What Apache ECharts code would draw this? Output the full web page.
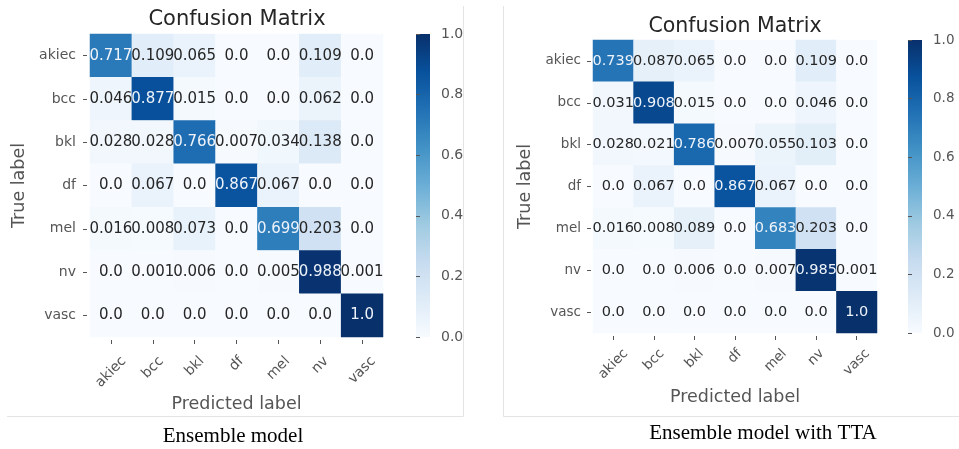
<!DOCTYPE html>
<html><head><meta charset="utf-8">
<script src="https://cdn.jsdelivr.net/npm/echarts@6/dist/echarts.min.js"></script>
<style>html,body{margin:0;padding:0;background:#fff}#c{width:959px;height:449px}</style>
</head><body><div id="c"></div>
<script>
// ---- data ----
const categories = ['akiec', 'bcc', 'bkl', 'df', 'mel', 'nv', 'vasc'];
const ensembleMatrix = [
  [0.717, 0.109, 0.065, 0.0, 0.0, 0.109, 0.0],
  [0.046, 0.877, 0.015, 0.0, 0.0, 0.062, 0.0],
  [0.028, 0.028, 0.766, 0.007, 0.034, 0.138, 0.0],
  [0.0, 0.067, 0.0, 0.867, 0.067, 0.0, 0.0],
  [0.016, 0.008, 0.073, 0.0, 0.699, 0.203, 0.0],
  [0.0, 0.001, 0.006, 0.0, 0.005, 0.988, 0.001],
  [0.0, 0.0, 0.0, 0.0, 0.0, 0.0, 1.0]
];
const ttaMatrix = [
  [0.739, 0.087, 0.065, 0.0, 0.0, 0.109, 0.0],
  [0.031, 0.908, 0.015, 0.0, 0.0, 0.046, 0.0],
  [0.028, 0.021, 0.786, 0.007, 0.055, 0.103, 0.0],
  [0.0, 0.067, 0.0, 0.867, 0.067, 0.0, 0.0],
  [0.016, 0.008, 0.089, 0.0, 0.683, 0.203, 0.0],
  [0.0, 0.0, 0.006, 0.0, 0.007, 0.985, 0.001],
  [0.0, 0.0, 0.0, 0.0, 0.0, 0.0, 1.0]
];
const colorbarMin = 0, colorbarMax = 1, colorbarStep = 0.2;
const titleText = 'Confusion Matrix';
const xName = 'Predicted label', yName = 'True label';
const captions = ['Ensemble model', 'Ensemble model with TTA'];
const blues = ['#f7fbff','#deebf7','#c6dbef','#9ecae1','#6baed6','#4292c6','#2171b5','#08519c','#08306b'];

// ---- layout ----
const FF = '"DejaVu Sans", sans-serif';
const GRAY = '#555555';
const panels = [
  {matrix: ensembleMatrix, hx: 90, hy: 34, hw: 293, hh: 303, cx: 416, cw: 14, fs: 14, cfs: 15,
   xo: 3, xm: 5, xng: 55, yo: 3, ym: 11, yng: 59, tx: 237, ty: 9.5, tfs: 21, capX: 233, capY: 426},
  {matrix: ttaMatrix, hx: 593, hy: 40, hw: 284, hh: 293, cx: 908, cw: 14, fs: 13.5, cfs: 14.5,
   xo: 3, xm: 1.5, xng: 52, yo: 2, ym: 10, yng: 57, tx: 735, ty: 16, tfs: 20.5, capX: 763, capY: 423}
];
const D = 14; // extra drop used by rotated-label padding

const ctx = document.createElement('canvas').getContext('2d');
function textW(t, fs) { ctx.font = fs + 'px "DejaVu Sans"'; return ctx.measureText(t).width; }
function fmt(v) { return Number.isInteger(Math.round(v * 1000) / 100) ? v.toFixed(1) : String(v); }

const grid = [], xAxis = [], yAxis = [], series = [], visualMap = [], title = [], graphic = [];
panels.forEach((P, i) => {
  const g = i * 2;
  grid.push({left: P.hx, top: P.hy, width: P.hw, height: P.hh});
  grid.push({left: P.cx, top: P.hy, width: P.cw, height: P.hh});
  // rich tokens: centre each rotated label horizontally on its tick (matplotlib ha='center')
  const rich = {};
  categories.forEach((c, k) => {
    const w = textW(c, P.fs);
    const pR = Math.max(0, D / Math.SQRT2 - w / 4);
    const pT = 2 * pR + w;
    rich['t' + k] = {padding: [pT, pR, 0, 0], fontSize: P.fs, color: GRAY, fontFamily: FF};
  });
  xAxis.push({
    gridIndex: g, type: 'category', position: 'bottom', offset: P.xo,
    data: categories,
    axisLine: {show: false},
    axisTick: {show: true, alignWithLabel: true, length: 4, lineStyle: {color: GRAY}},
    axisLabel: {interval: 0, rotate: 45, align: 'right', verticalAlign: 'middle', margin: P.xm,
                fontSize: P.fs, color: GRAY, fontFamily: FF,
                formatter: (v, k) => '{t' + categories.indexOf(v) + '|' + v + '}', rich: rich},
    splitLine: {show: false},
    name: xName, nameLocation: 'middle', nameGap: P.xng, nameMoveOverlap: false,
    nameTextStyle: {fontSize: 17.5, color: GRAY, fontFamily: FF}
  });
  yAxis.push({
    gridIndex: g, type: 'category', data: categories, inverse: true, offset: P.yo,
    axisLine: {show: false},
    axisTick: {show: true, alignWithLabel: true, length: 4, lineStyle: {color: GRAY}},
    axisLabel: {interval: 0, margin: P.ym, fontSize: P.fs, color: GRAY, fontFamily: FF},
    splitLine: {show: false},
    name: yName, nameLocation: 'middle', nameGap: P.yng, nameMoveOverlap: false,
    nameTextStyle: {fontSize: 17.5, color: GRAY, fontFamily: FF}
  });
  xAxis.push({gridIndex: g + 1, type: 'value', show: false});
  yAxis.push({
    gridIndex: g + 1, type: 'value', min: colorbarMin, max: colorbarMax, interval: colorbarStep,
    position: 'right', offset: 2,
    axisLine: {show: false},
    axisTick: {show: true, length: 4, lineStyle: {color: GRAY}},
    axisLabel: {margin: 9, fontSize: P.fs, color: GRAY, fontFamily: FF, formatter: v => v.toFixed(1)},
    splitLine: {show: false}
  });
  const data = [];
  P.matrix.forEach((row, r) => row.forEach((v, c) => data.push([c, r, v])));
  series.push({
    type: 'heatmap', xAxisIndex: g, yAxisIndex: g, data: data,
    emphasis: {disabled: true},
    label: {
      show: true,
      formatter: p => (p.value[2] > 0.5 ? '{w|' : '{d|') + fmt(p.value[2]) + '}',
      rich: {
        w: {color: '#eef3fa', fontSize: P.cfs, fontFamily: FF},
        d: {color: '#262626', fontSize: P.cfs, fontFamily: FF}
      }
    }
  });
  visualMap.push({type: 'continuous', show: false, min: colorbarMin, max: colorbarMax, seriesIndex: i,
                  inRange: {color: blues}});
  title.push({text: titleText, left: P.tx, top: P.ty, textAlign: 'center', padding: 0,
              textStyle: {fontSize: P.tfs, fontWeight: 'normal', color: '#262626', fontFamily: FF}});
  title.push({text: captions[i], left: P.capX, top: P.capY, textAlign: 'center', padding: 0,
              textStyle: {fontSize: 21, fontWeight: 'normal', color: '#000', fontFamily: '"Liberation Serif", "Times New Roman", serif'}});
  graphic.push({
    type: 'rect', shape: {x: P.cx, y: P.hy, width: P.cw, height: P.hh}, silent: true,
    style: {fill: new echarts.graphic.LinearGradient(0, 1, 0, 0,
      blues.map((c, k) => ({offset: k / (blues.length - 1), color: c})))}
  });
});
// panel frames
const frame = {stroke: '#e4e4e4', lineWidth: 1};
graphic.push({type: 'line', shape: {x1: 463.5, y1: 6, x2: 463.5, y2: 416.5}, style: frame, silent: true});
graphic.push({type: 'line', shape: {x1: 7, y1: 416.5, x2: 463.5, y2: 416.5}, style: frame, silent: true});
graphic.push({type: 'line', shape: {x1: 503.5, y1: 6, x2: 503.5, y2: 416.5}, style: frame, silent: true});
graphic.push({type: 'line', shape: {x1: 503.5, y1: 416.5, x2: 959, y2: 416.5}, style: frame, silent: true});

const chart = echarts.init(document.getElementById('c'), null, {renderer: 'canvas'});
chart.setOption({
  backgroundColor: '#ffffff', animation: false,
  title, grid, xAxis, yAxis, visualMap, series, graphic
});
</script></body></html>
